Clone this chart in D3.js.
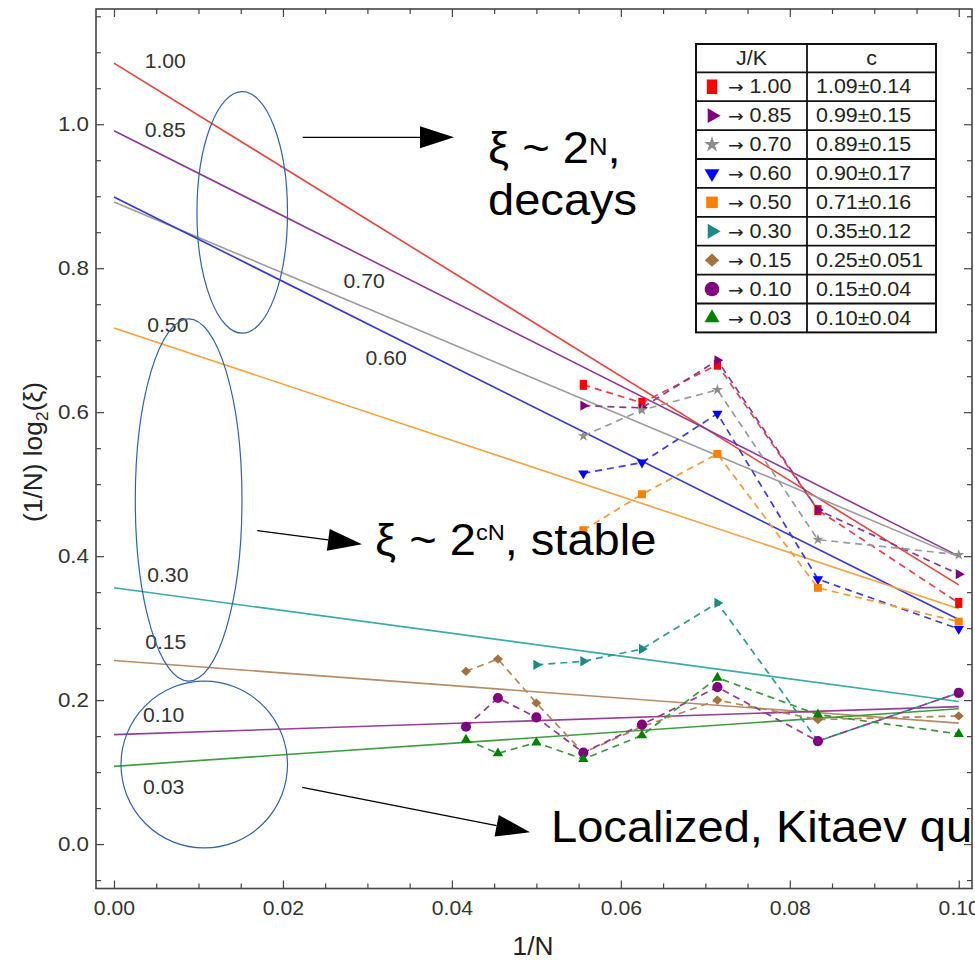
<!DOCTYPE html>
<html>
<head>
<meta charset="utf-8">
<script src="https://cdn.jsdelivr.net/npm/d3@7"></script>
<style>
  body { margin: 0; background: #fff; }
  svg { display: block; font-family: "Liberation Sans", Arial, sans-serif; }
</style>
</head>
<body>
<svg id="chart" width="975" height="960"></svg>
<script>
// ---- data ---------------------------------------------------------------
// horizontal positions of the finite-size points: 1/N for N = 24 ... 10
const invN = [0.04167, 0.04545, 0.05, 0.05556, 0.0625, 0.07143, 0.08333, 0.1];

// J/K values and fitted exponent c
const jkLabels = ["1.00", "0.85", "0.70", "0.60", "0.50", "0.30", "0.15", "0.10", "0.03"];
const cValues = ["1.09±0.14", "0.99±0.15", "0.89±0.15", "0.90±0.17", "0.71±0.16",
                 "0.35±0.12", "0.25±0.051", "0.15±0.04", "0.10±0.04"];

// (1/N) log2(xi) for each J/K (null = not computed for that N)
const jk100 = [null, null, null, 0.638, 0.613, 0.666, 0.464, 0.335];
const jk085 = [null, null, null, 0.609, 0.606, 0.672, 0.464, 0.375];
const jk070 = [null, null, null, 0.567, 0.603, 0.631, 0.423, 0.402];
const jk060 = [null, null, null, 0.515, 0.530, 0.598, 0.368, 0.299];
const jk050 = [null, null, null, 0.436, 0.486, 0.542, 0.356, 0.309];
const jk030 = [null, null, 0.249, 0.254, 0.271, 0.335, 0.143, 0.210];
const jk015 = [0.240, 0.257, 0.196, 0.127, 0.163, 0.200, 0.173, 0.178];
const jk010 = [0.163, 0.203, 0.176, 0.127, 0.166, 0.218, 0.143, 0.210];
const jk003 = [0.145, 0.126, 0.141, 0.118, 0.151, 0.231, 0.180, 0.153];
const seriesValues = [jk100, jk085, jk070, jk060, jk050, jk030, jk015, jk010, jk003];

// linear extrapolations: value at 1/N = 0 and at 1/N = 0.1
const fitX = [0, 0.1];
const fitAtZero = [1.085, 0.991, 0.892, 0.899, 0.717, 0.356, 0.255, 0.152, 0.108];
const fitAtEnd  = [0.360, 0.400, 0.399, 0.312, 0.327, 0.198, 0.168, 0.191, 0.188];

// axis ticks
const xTicks = [0, 0.02, 0.04, 0.06, 0.08, 0.1];
const xTickLabels = ["0.00", "0.02", "0.04", "0.06", "0.08", "0.10"];
const yTicks = [0, 0.2, 0.4, 0.6, 0.8, 1.0];
const yTickLabels = ["0.0", "0.2", "0.4", "0.6", "0.8", "1.0"];

// ---- styles -------------------------------------------------------------
const fitColors  = ["#e8433c", "#8c3994", "#9c9c9c", "#3434d6", "#f5a144", "#3aabab", "#b68c66", "#963f99", "#3e9e3e"];
const dashColors = ["#e8404a", "#8a3a8e", "#9a9a9a", "#3a3ae0", "#f39a3c", "#2f9a94", "#b08558", "#8e3a90", "#3a963a"];
const markColors = ["#ff0000", "#800080", "#8c8c8c", "#0000ff", "#ff8000", "#1b8a82", "#a2713e", "#800080", "#008000"];
const markKinds  = ["rect", "triRight", "star", "triDown", "square", "triRight", "diamond", "circle", "triUp"];

// label placement for each extrapolated line, in data units (centre x, baseline y)
const labelPosX = [0.00607, 0.00607, 0.02962, 0.03222, 0.00637, 0.00637, 0.00613, 0.00587, 0.00587];
const labelPosY = [1.0778, 0.9828, 0.7722, 0.6657, 0.7119, 0.3643, 0.2712, 0.1699, 0.0699];

// ---- frame and scales ---------------------------------------------------
const frame = { left: 96, right: 972, top: 9, bottom: 888.5 };
const svg = d3.select("#chart");

const x = d3.scaleLinear().domain([-0.00213, 0.10157]).range([frame.left, frame.right]);
const y = d3.scaleLinear().domain([-0.0617, 1.1601]).range([frame.bottom, frame.top]);

const axisColor = "#444";

function styleAxis(g, withText, sx) {
  g.select(".domain").remove();
  g.selectAll(".tick line").attr("stroke", axisColor).attr("stroke-width", 1.2);
  if (withText) {
    g.selectAll(".tick text").attr("fill", "#333").attr("font-size", 20)
      .attr("font-family", "Liberation Sans, Arial, sans-serif")
      .each(function () {
        const t = d3.select(this);
        const tx = +t.attr("x") || 0, ty = +t.attr("y") || 0;
        t.attr("x", null).attr("y", null)
         .attr("transform", `translate(${tx},${ty}) scale(${sx},1)`);
      });
  } else {
    g.selectAll(".tick text").remove();
  }
}

const xMinor = d3.range(0, 0.1001, 0.005).filter(v => !xTicks.some(t => Math.abs(t - v) < 1e-9));
const yMinor = d3.range(-0.05, 1.151, 0.05).filter(v => !yTicks.some(t => Math.abs(t - v) < 1e-9));

// bottom
svg.append("g").attr("transform", `translate(0,${frame.bottom})`)
  .call(d3.axisBottom(x).tickValues(xTicks).tickFormat((d, i) => xTickLabels[i]).tickSize(-8).tickPadding(12))
  .call(g => styleAxis(g, true, 1.06));
svg.append("g").attr("transform", `translate(0,${frame.bottom})`)
  .call(d3.axisBottom(x).tickValues(xMinor).tickSize(-5)).call(g => styleAxis(g, false));
// top
svg.append("g").attr("transform", `translate(0,${frame.top})`)
  .call(d3.axisTop(x).tickValues(xTicks).tickSize(-8)).call(g => styleAxis(g, false));
svg.append("g").attr("transform", `translate(0,${frame.top})`)
  .call(d3.axisTop(x).tickValues(xMinor).tickSize(-5)).call(g => styleAxis(g, false));
// left
svg.append("g").attr("transform", `translate(${frame.left},0)`)
  .call(d3.axisLeft(y).tickValues(yTicks).tickFormat((d, i) => yTickLabels[i]).tickSize(-8).tickPadding(7))
  .call(g => styleAxis(g, true, 1.12));
svg.append("g").attr("transform", `translate(${frame.left},0)`)
  .call(d3.axisLeft(y).tickValues(yMinor).tickSize(-5)).call(g => styleAxis(g, false));
// right
svg.append("g").attr("transform", `translate(${frame.right},0)`)
  .call(d3.axisRight(y).tickValues(yTicks).tickSize(-8)).call(g => styleAxis(g, false));
svg.append("g").attr("transform", `translate(${frame.right},0)`)
  .call(d3.axisRight(y).tickValues(yMinor).tickSize(-5)).call(g => styleAxis(g, false));

svg.append("rect")
  .attr("x", frame.left).attr("y", frame.top)
  .attr("width", frame.right - frame.left).attr("height", frame.bottom - frame.top)
  .attr("fill", "none").attr("stroke", axisColor).attr("stroke-width", 1.6);

// text helper with a slight horizontal stretch
function label(parent, px, py, size, anchor, sx) {
  return parent.append("text")
    .attr("transform", `translate(${px},${py}) scale(${sx},1)`)
    .attr("font-size", size)
    .attr("text-anchor", anchor);
}

// axis titles
label(svg, 533, 955, 25, "middle", 1.05).attr("fill", "#222").text("1/N");
const yTitle = svg.append("text")
  .attr("transform", "translate(42,452) rotate(-90) scale(1.05,1)")
  .attr("font-size", 25).attr("text-anchor", "middle").attr("fill", "#222");
yTitle.append("tspan").text("(1/N) log");
yTitle.append("tspan").attr("font-size", 17).attr("dy", 6).text("2");
yTitle.append("tspan").attr("dy", -6).text("(ξ)");

// ---- extrapolated lines -------------------------------------------------
const plot = svg.append("g");
const lineGen = d3.line().x(d => x(d[0])).y(d => y(d[1]));

jkLabels.forEach((lab, i) => {
  plot.append("path")
    .datum([[fitX[0], fitAtZero[i]], [fitX[1], fitAtEnd[i]]])
    .attr("d", lineGen)
    .attr("fill", "none")
    .attr("stroke", fitColors[i])
    .attr("stroke-width", 1.6);
});

jkLabels.forEach((lab, i) => {
  label(plot, x(labelPosX[i]), y(labelPosY[i]), 20, "middle", 1.06)
    .attr("fill", "#333").text(lab);
});

// ---- marker shapes ------------------------------------------------------
function markerPath(kind, s) {
  switch (kind) {
    case "rect":     return `M${-3.6 * s},${-5 * s}h${7.2 * s}v${10 * s}h${-7.2 * s}Z`;
    case "square":   return d3.symbol(d3.symbolSquare, 64 * s * s)();
    case "circle":   return d3.symbol(d3.symbolCircle, 80 * s * s)();
    case "star":     return d3.symbol(d3.symbolStar, 38 * s * s)();
    case "diamond":  return `M0,${-4.6 * s}L${5 * s},0L0,${4.6 * s}L${-5 * s},0Z`;
    default:         return d3.symbol(d3.symbolTriangle, 46 * s * s)();
  }
}
function markerRotation(kind) {
  if (kind === "triRight") return 90;
  if (kind === "triDown") return 180;
  return 0;
}

// ---- finite-size data ---------------------------------------------------
const dashed = d3.line().defined(d => d[1] !== null).x(d => x(d[0])).y(d => y(d[1]));

seriesValues.forEach((vals, i) => {
  const pts = invN.map((v, j) => [v, vals[j]]);
  const g = plot.append("g");
  g.append("path")
    .datum(pts)
    .attr("d", dashed)
    .attr("fill", "none")
    .attr("stroke", dashColors[i])
    .attr("stroke-width", 1.7)
    .attr("stroke-dasharray", "7,5");
  g.selectAll("path.mk")
    .data(pts.filter(d => d[1] !== null))
    .join("path")
    .attr("class", "mk")
    .attr("d", markerPath(markKinds[i], 1))
    .attr("transform", d => `translate(${x(d[0])},${y(d[1])}) rotate(${markerRotation(markKinds[i])})`)
    .attr("fill", markColors[i]);
});

// ---- annotations --------------------------------------------------------
const ann = svg.append("g");
const ellipseColor = "#2f62aa";
const regions = [
  { x0: 0.00982, x1: 0.02054, y0: 0.7097, y1: 1.0453 },
  { x0: 0.00252, x1: 0.01515, y0: 0.2263, y1: 0.7296 },
  { x0: 0.00083, x1: 0.02054, y0: -0.0054, y1: 0.2263 }
];
regions.forEach(r => {
  ann.append("ellipse")
    .attr("cx", (x(r.x0) + x(r.x1)) / 2)
    .attr("cy", (y(r.y0) + y(r.y1)) / 2)
    .attr("rx", (x(r.x1) - x(r.x0)) / 2)
    .attr("ry", (y(r.y0) - y(r.y1)) / 2)
    .attr("fill", "none")
    .attr("stroke", ellipseColor)
    .attr("stroke-width", 1.2);
});

function arrow(x1, y1, x2, y2) {
  const dx = x2 - x1, dy = y2 - y1, L = Math.hypot(dx, dy);
  const ux = dx / L, uy = dy / L, hl = 34, hw = 11;
  const bx = x2 - ux * hl, by = y2 - uy * hl;
  ann.append("line").attr("x1", x1).attr("y1", y1).attr("x2", bx).attr("y2", by)
    .attr("stroke", "#000").attr("stroke-width", 1.3);
  ann.append("path")
    .attr("d", `M${x2},${y2}L${bx - uy * hw},${by + ux * hw}L${bx + uy * hw},${by - ux * hw}Z`)
    .attr("fill", "#000");
}
arrow(302.7, 137.3, 454, 137.3);
arrow(257.3, 530.7, 362, 544.3);
arrow(302.2, 787.3, 530, 832.3);

const t1 = label(ann, 488, 163, 44, "start", 1.07).attr("fill", "#000");
t1.append("tspan").text("ξ ~ 2");
t1.append("tspan").attr("font-size", 24).attr("dy", -8).text("N");
t1.append("tspan").attr("dy", 8).text(",");
label(ann, 488, 215, 44, "start", 1.07).attr("fill", "#000").text("decays");

const t2 = label(ann, 375, 555, 44, "start", 1.07).attr("fill", "#000");
t2.append("tspan").text("ξ ~ 2");
t2.append("tspan").attr("font-size", 22).attr("dy", -15).text("cN");
t2.append("tspan").attr("dy", 15).text(", stable");

label(ann, 551, 842, 44, "start", 1.07).attr("fill", "#000").text("Localized, Kitaev qu");

// ---- legend table -------------------------------------------------------
const leg = svg.append("g");
const tab = { x0: 696, x1: 936, xDiv: 807, y0: 44, head: 28.3, row: 28.9 };
const tabBottom = tab.y0 + tab.head + tab.row * jkLabels.length;

leg.append("rect")
  .attr("x", tab.x0).attr("y", tab.y0)
  .attr("width", tab.x1 - tab.x0).attr("height", tabBottom - tab.y0)
  .attr("fill", "#fff").attr("stroke", "#111").attr("stroke-width", 2);
leg.append("line")
  .attr("x1", tab.xDiv).attr("x2", tab.xDiv).attr("y1", tab.y0).attr("y2", tabBottom)
  .attr("stroke", "#111").attr("stroke-width", 1.8);
jkLabels.forEach((lab, i) => {
  const yy = tab.y0 + tab.head + tab.row * i;
  leg.append("line")
    .attr("x1", tab.x0).attr("x2", tab.x1).attr("y1", yy).attr("y2", yy)
    .attr("stroke", "#111").attr("stroke-width", 1.8);
});

label(leg, (tab.x0 + tab.xDiv) / 2, tab.y0 + 21, 19.5, "middle", 1.1).attr("fill", "#222").text("J/K");
label(leg, (tab.xDiv + tab.x1) / 2, tab.y0 + 21, 19.5, "middle", 1.1).attr("fill", "#222").text("c");

jkLabels.forEach((lab, i) => {
  const top = tab.y0 + tab.head + tab.row * i;
  const cy = top + tab.row / 2;
  leg.append("path")
    .attr("d", markerPath(markKinds[i], 1.45))
    .attr("transform", `translate(712,${cy}) rotate(${markerRotation(markKinds[i])})`)
    .attr("fill", markColors[i]);
  const rowText = label(leg, 728, top + 21, 19.5, "start", 1.1).attr("fill", "#222");
  rowText.append("tspan").attr("font-family", "DejaVu Sans, sans-serif").attr("font-size", 17).text("→");
  rowText.append("tspan").text(" " + lab);
  label(leg, 816, top + 21, 19.5, "start", 1.1).attr("fill", "#222").text(cValues[i]);
});
</script>
</body>
</html>
